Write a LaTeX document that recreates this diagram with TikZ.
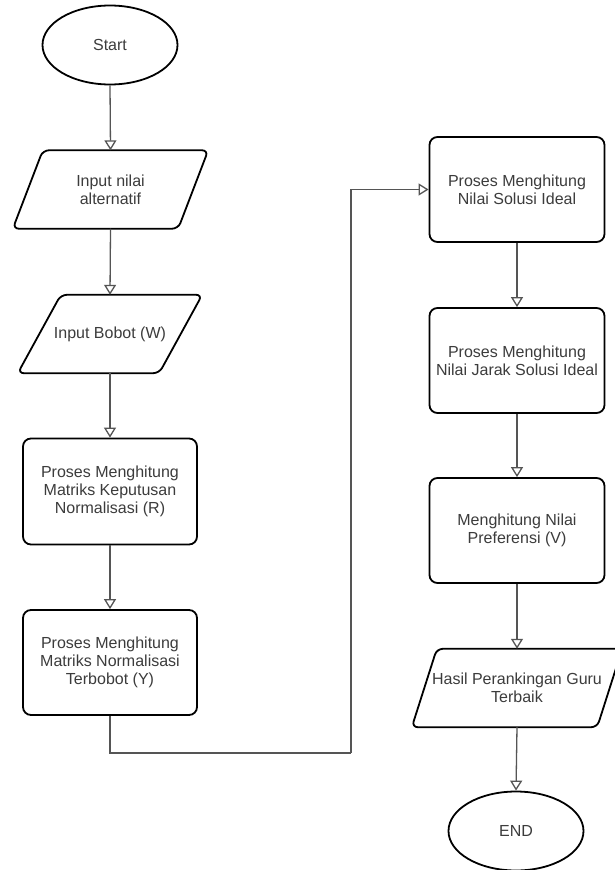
\documentclass[tikz,border=0pt]{standalone}
\usepackage{fontspec}
\setmainfont{Liberation Sans}
\usetikzlibrary{arrows.meta,shapes.geometric,calc}
\definecolor{txt}{HTML}{3C3C3C}
\definecolor{ln}{HTML}{555555}
\begin{document}
\begin{tikzpicture}[x=1pt,y=-1pt,
  every node/.style={font=\fontsize{16}{18}\selectfont, text=txt, align=center},
  term/.style={ellipse, draw, line width=1.8pt, minimum width=135pt, minimum height=79pt, inner sep=0pt},
  proc/.style={rectangle, rounded corners=8pt, draw, line width=1.8pt, minimum width=174pt, minimum height=106pt, inner sep=0pt},
  io/.style={rectangle, minimum height=78pt, inner sep=0pt},
  ioline/.style={line width=1.8pt, rounded corners=6pt},
  conn/.style={draw=ln, line width=1.3pt, -{Triangle[open, length=10pt, width=12pt]}},
  link/.style={draw=ln, line width=1.3pt},
]
\fill[white] (0,0) rectangle (614,870);
\useasboundingbox (0,0) rectangle (614,870);

% left column
\node[term] (start) at (110,45) {Start};
\node[io, minimum width=195pt] (p1) at (110.5,189.5) {Input nilai\\alternatif};
\draw[ioline] ($(p1.north west)+(30,0)$) -- (p1.north east) -- ($(p1.south east)-(30,0)$) -- (p1.south west) -- cycle;
\node[io, minimum width=184pt] (p2) at (110,334) {Input Bobot (W)};
\draw[ioline] ($(p2.north west)+(43,0)$) -- (p2.north east) -- ($(p2.south east)-(43,0)$) -- (p2.south west) -- cycle;
\node[proc] (r1) at (110,491.5) {Proses Menghitung\\Matriks Keputusan\\Normalisasi (R)};
\node[proc, minimum height=105pt] (r2) at (110,662.5) {Proses Menghitung\\Matriks Normalisasi\\Terbobot (Y)};

% right column
\node[proc, minimum width=175pt, minimum height=105pt] (r3) at (517,189.5) {Proses Menghitung\\Nilai Solusi Ideal};
\node[proc, minimum width=175pt, minimum height=105pt] (r4) at (517,360.5) {Proses Menghitung\\Nilai Jarak Solusi Ideal};
\node[proc, minimum width=175pt, minimum height=105pt] (r5) at (517,530.5) {Menghitung Nilai\\Preferensi (V)};
\node[io, minimum width=210pt] (p3) at (517,688) {Hasil Perankingan Guru\\Terbaik};
\draw[ioline] ($(p3.north west)+(25,0)$) -- (p3.north east) -- ($(p3.south east)-(25,0)$) -- (p3.south west) -- cycle;
\node[term] (end) at (516,831) {END};

\coordinate (c1) at (351,753);

% connectors
\draw[conn] (start.south) -- (p1.north);
\draw[conn] (p1.south) -- (p2.north);
\draw[conn] (p2.south) -- (r1.north);
\draw[conn] (r1.south) -- (r2.north);
\draw[link] (r2.south) |- (c1);
\draw[conn] (c1) |- (r3.west);
\draw[conn] (r3.south) -- (r4.north);
\draw[conn] (r4.south) -- (r5.north);
\draw[conn] (r5.south) -- (p3.north);
\draw[conn] (p3.south) -- (end.north);
\end{tikzpicture}
\end{document}
